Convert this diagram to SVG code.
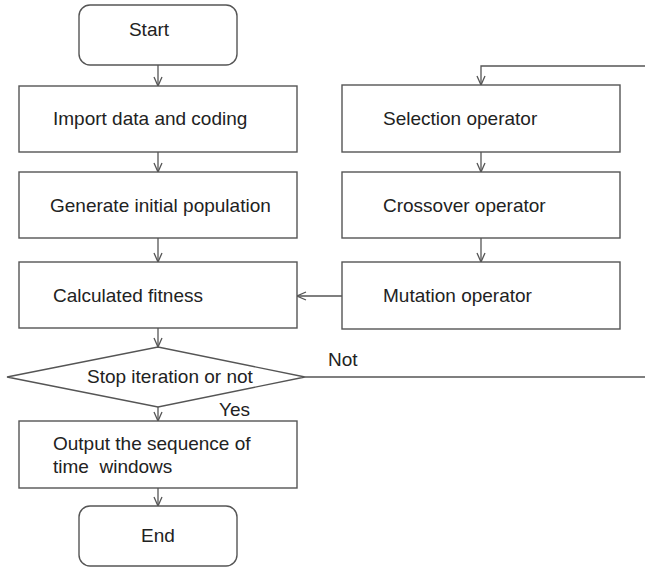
<svg xmlns="http://www.w3.org/2000/svg" width="645" height="568" viewBox="0 0 645 568">
<style>
.box{fill:#fff;stroke:#555;stroke-width:1.4}
.t{font-family:"Liberation Sans",Arial,sans-serif;font-size:19px;fill:#222}
.c{fill:none;stroke:#555;stroke-width:1.3}
</style>
<defs>
<marker id="ah" viewBox="0 0 10 10" refX="10" refY="5" markerWidth="10" markerHeight="10" markerUnits="userSpaceOnUse" orient="auto">
<polyline points="1,1 10,5 1,9" fill="none" stroke="#555" stroke-width="1.3"/>
</marker>
</defs>
<rect width="645" height="568" fill="#fff"/>
<g id="start"><rect class="box" x="79" y="5" width="158" height="60" rx="11"/><text class="t" x="149" y="36" text-anchor="middle">Start</text></g>
<g id="import"><rect class="box" x="19" y="86" width="278" height="66"/><text class="t" x="53" y="125">Import data and coding</text></g>
<g id="generate"><rect class="box" x="19" y="172" width="278" height="66"/><text class="t" x="50" y="212">Generate initial population</text></g>
<g id="fitness"><rect class="box" x="19" y="262" width="278" height="66"/><text class="t" x="53" y="302">Calculated fitness</text></g>
<g id="decision"><polygon class="box" points="7,377 158,347 305,377 158,407"/><text class="t" x="87" y="383">Stop iteration or not</text></g>
<g id="output"><rect class="box" x="19" y="421" width="278" height="67"/><text class="t" x="53" y="450">Output the sequence of</text><text class="t" x="53" y="473" xml:space="preserve">time  windows</text></g>
<g id="end"><rect class="box" x="79" y="506" width="158" height="60" rx="11"/><text class="t" x="158" y="542" text-anchor="middle">End</text></g>
<g id="selection"><rect class="box" x="342" y="85" width="278" height="67"/><text class="t" x="383" y="125">Selection operator</text></g>
<g id="crossover"><rect class="box" x="342" y="172" width="278" height="66"/><text class="t" x="383" y="212">Crossover operator</text></g>
<g id="mutation"><rect class="box" x="342" y="262" width="278" height="67"/><text class="t" x="383" y="302">Mutation operator</text></g>
<g id="connectors">
<line class="c" x1="158" y1="65" x2="158" y2="86" marker-end="url(#ah)"/>
<line class="c" x1="158" y1="152" x2="158" y2="172" marker-end="url(#ah)"/>
<line class="c" x1="158" y1="238" x2="158" y2="262" marker-end="url(#ah)"/>
<line class="c" x1="158" y1="328" x2="158" y2="347" marker-end="url(#ah)"/>
<line class="c" x1="158" y1="407" x2="158" y2="421" marker-end="url(#ah)"/>
<line class="c" x1="158" y1="488" x2="158" y2="506" marker-end="url(#ah)"/>
<line class="c" x1="481" y1="152" x2="481" y2="172" marker-end="url(#ah)"/>
<line class="c" x1="481" y1="238" x2="481" y2="262" marker-end="url(#ah)"/>
<line class="c" x1="342" y1="296" x2="297" y2="296" marker-end="url(#ah)"/>
<polyline class="c" points="645,66 481,66 481,85" marker-end="url(#ah)"/>
<line class="c" x1="305" y1="377" x2="645" y2="377"/>
<text class="t" x="328" y="366">Not</text>
<text class="t" x="219" y="416">Yes</text>
</g>
</svg>
